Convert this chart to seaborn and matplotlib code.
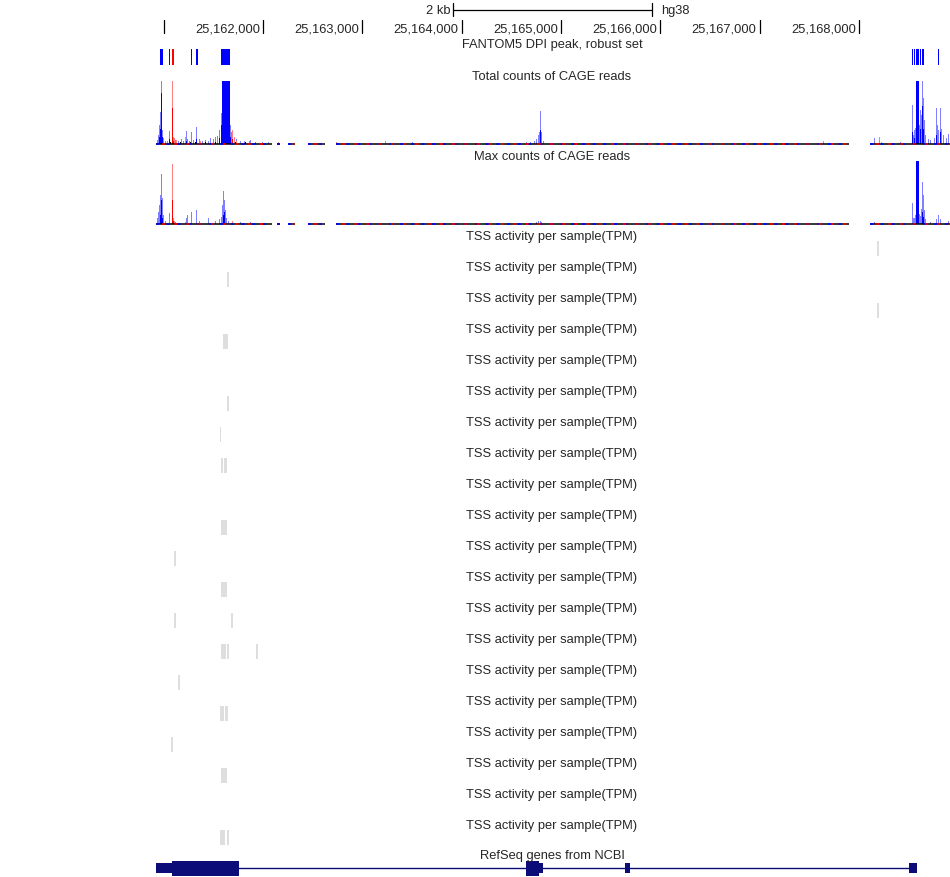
import numpy as np
import pandas as pd
import matplotlib
matplotlib.use("Agg")
import matplotlib.pyplot as plt
import seaborn as sns

sns.set_theme(style="white")
plt.rcParams['font.family'] = ['Liberation Sans', 'DejaVu Sans']

# ---- browser window (hg38) ----
view_start = 25159352      # left edge of the image
view_end = 25168916        # right edge of the image
data_start = 25160923      # left edge of the data area

ruler_ticks = [25161000, 25162000, 25163000, 25164000, 25165000, 25166000, 25167000, 25168000]
ruler_labels = ["", "25,162,000", "25,163,000", "25,164,000", "25,165,000", "25,166,000",
                "25,167,000", "25,168,000"]
scale_start = 25163916
scale_len = 2000
label_x = 25164909

# ---- FANTOM5 DPI peaks (start, width) ----
dpi_plus = [(25160960, 38), (25161052, 16), (25161273, 16), (25161329, 16), (25161577, 91),
            (25168531, 14), (25168552, 14), (25168574, 25), (25168612, 14), (25168637, 14),
            (25168793, 16)]
dpi_minus = [(25161085, 16)]

# ---- Total counts of CAGE reads (% of track height) ----
tot_plus_pos = [25160933, 25160943, 25160953, 25160963, 25160973, 25160983, 25160993, 25161013,
                25161034, 25161054, 25161114, 25161144, 25161174, 25161195, 25161225, 25161235,
                25161255, 25161275, 25161295, 25161326, 25161356, 25161386, 25161416, 25161446,
                25161467, 25161497, 25161517, 25161537, 25161557, 25161577, 25161587, 25161597,
                25161607, 25161617, 25161627, 25161638, 25161648, 25161658, 25161668, 25161678,
                25161708, 25161728, 25161768, 25161809, 25161859, 25161869, 25161920, 25161990,
                25162050, 25163500, 25164648, 25164688, 25164728, 25164748, 25164768, 25164779,
                25164789, 25164799, 25164819, 25168151, 25168413, 25168533, 25168543, 25168554,
                25168564, 25168574, 25168584, 25168594, 25168604, 25168614, 25168624, 25168634,
                25168644, 25168654, 25168664, 25168694, 25168715, 25168755, 25168775, 25168785,
                25168795, 25168815, 25168825, 25168845, 25168876, 25168896]
tot_plus_val = [7, 15, 30, 51, 100, 23, 10, 6, 5, 21, 7, 5, 9, 6, 21, 8,
                6, 19, 7, 27, 8, 5, 7, 6, 10, 9, 11, 13, 22, 50, 100, 100,
                100, 100, 100, 100, 100, 100, 30, 20, 10, 8, 6, 5, 6, 7, 4, 3,
                4, 3, 3, 4, 6, 9, 15, 20, 53, 20, 5, 10, 3, 62, 15, 22,
                26, 100, 100, 100, 30, 54, 46, 100, 73, 38, 15, 8, 7, 10, 57, 30,
                22, 57, 25, 15, 10, 16]
tot_plus_core_pos = [25160953, 25160963, 25160973, 25160983, 25161054, 25161225, 25161326,
                     25161557, 25161577, 25161587, 25161597, 25161607, 25161617, 25161627,
                     25161638, 25161648, 25161658, 25161668, 25164789, 25168533, 25168554,
                     25168574, 25168584, 25168594, 25168614, 25168634, 25168644, 25168775,
                     25168815]
tot_plus_core_val = [12, 25, 81, 12, 8, 6, 8, 10, 30, 100, 100, 100, 100, 100, 100, 100,
                     100, 12, 22, 20, 10, 100, 100, 100, 25, 60, 25, 15, 20]
tot_minus_pos = [25161084, 25161094, 25161104, 25161124, 25161174, 25161215, 25161366,
                 25161688, 25161708, 25161728, 25162151, 25162735, 25163228, 25167638,
                 25168201, 25168221]
tot_minus_val = [100, 12, 10, 7, 4, 11, 6, 22, 12, 6, 3, 4, 5, 5, 11, 4]
tot_minus_core_pos = [25161084, 25161094, 25161688]
tot_minus_core_val = [57, 6, 8]
tot_other_pos = [25161064, 25161164, 25161265, 25161316, 25161416, 25161517, 25161617,
                 25161718, 25161819, 25161920]
tot_other_val = [4, 3, 4, 3, 3, 4, 5, 4, 3, 2]

# ---- Max counts of CAGE reads (% of track height) ----
max_plus_pos = [25160933, 25160943, 25160953, 25160963, 25160973, 25160983, 25160993, 25161013,
                25161054, 25161114, 25161225, 25161235, 25161275, 25161326, 25161356, 25161446,
                25161517, 25161557, 25161577, 25161587, 25161597, 25161607, 25161617, 25161627,
                25161648, 25161688, 25161768, 25161869, 25164748, 25164768, 25164789, 25164799,
                25168151, 25168533, 25168543, 25168554, 25168564, 25168574, 25168584, 25168594,
                25168604, 25168614, 25168624, 25168634, 25168644, 25168654, 25168664, 25168715,
                25168775, 25168795, 25168815, 25168896]
max_plus_val = [10, 20, 31, 46, 80, 42, 15, 6, 18, 4, 10, 14, 19, 23, 5, 10,
                6, 8, 12, 31, 53, 39, 22, 10, 6, 4, 3, 3, 4, 5, 6, 4,
                4, 34, 10, 10, 15, 100, 100, 100, 16, 13, 25, 67, 46, 22, 8, 4,
                8, 15, 8, 6]
max_plus_core_pos = [25160963, 25160973, 25160983, 25161597, 25161607, 25168574, 25168584,
                     25168594, 25168634, 25168644]
max_plus_core_val = [15, 39, 10, 15, 20, 100, 100, 100, 20, 12]
max_minus_pos = [25161084, 25161094, 25161104, 25161215, 25161688]
max_minus_val = [96, 10, 5, 3, 5]
max_minus_core_pos = [25161084, 25161094]
max_minus_core_val = [39, 5]

# stretches of the window with any CAGE signal (baseline)
covered = [(25160923, 25162091), (25162141, 25162171), (25162252, 25162322),
           (25162453, 25162624), (25162735, 25167899), (25168110, 25168916)]

# ---- TSS activity per sample (TPM): hits per sample (start, width) ----
tss_hits = [
    [(25168184, 20)],
    [(25161641, 20)],
    [(25168184, 20)],
    [(25161600, 14), (25161621, 28)],
    [],
    [(25161641, 20)],
    [(25161565, 14)],
    [(25161575, 22), (25161605, 28)],
    [],
    [(25161580, 58)],
    [(25161108, 14)],
    [(25161580, 58)],
    [(25161108, 14), (25161681, 14)],
    [(25161575, 48), (25161641, 14), (25161933, 14)],
    [(25161148, 14)],
    [(25161570, 42), (25161615, 32)],
    [(25161078, 14)],
    [(25161580, 14), (25161600, 38)],
    [],
    [(25161570, 52), (25161641, 14)],
]

# ---- RefSeq gene model ----
gene_utr = [(25160923, 161), (25164781, 41), (25165644, 47), (25168503, 84)]
gene_cds = [(25161084, 674), (25164648, 133)]
gene_span = (25160923, 25168503)

blue, red, navy = "#0000ff", "#ff0000", "#0c0c78"
light_blue, light_red = "#8080ff", "#ff8080"
W, H = 950, 877

fig = plt.figure(figsize=(W / 100, H / 100), dpi=100)
ax = fig.add_axes([0, 0, 1, 1])
ax.set_xlim(view_start, view_end)
ax.set_ylim(H, 0)
ax.axis("off")

px = (view_end - view_start) / W   # bp per pixel
fs = 9.3

# ruler
for t, lab in zip(ruler_ticks, ruler_labels):
    ax.plot([t, t], [20, 33], color="black", lw=0.9)
    ax.text(t - 3 * px, 32.7, lab, ha="right", va="baseline", fontsize=fs)
ax.plot([scale_start, scale_start + scale_len], [9.5, 9.5], color="black", lw=0.9)
for t in (scale_start, scale_start + scale_len):
    ax.plot([t, t], [3, 16], color="black", lw=0.9)
ax.text(scale_start - 3 * px, 14.3, "2 kb", ha="right", va="baseline", fontsize=fs)
ax.text(scale_start + scale_len + 9 * px, 14.3, "hg38", ha="left", va="baseline", fontsize=fs)

# DPI peaks
ax.text(label_x, 47.7, "FANTOM5 DPI peak, robust set", ha="center", va="baseline", fontsize=fs)
ax.broken_barh(dpi_plus, (49, 16), facecolor=blue, edgecolor=blue, linewidth=0,
               antialiased=False)
ax.broken_barh(dpi_minus, (49, 16), facecolor=red, edgecolor=red, linewidth=0,
               antialiased=False)

ax.text(label_x, 79.7, "Total counts of CAGE reads", ha="center", va="baseline", fontsize=fs)
ax.text(label_x, 160, "Max counts of CAGE reads", ha="center", va="baseline", fontsize=fs)


def signal_track(top, bottom, layers):
    tax = fig.add_axes([156 / W, 1 - bottom / H, (W - 156) / W, (bottom - top) / H])
    tax.set_xlim(data_start, view_end)
    tax.set_ylim(-1.8, 100)
    tax.axis("off")
    for s, e in covered:
        tax.plot([s, e], [0, 0], color="black", lw=1.1, solid_capstyle="butt")
        tax.plot([s, e], [0, 0], color=blue, lw=1.1, ls=(0, (2, 5)))
        tax.plot([s, e], [0, 0], color=red, lw=1.1, ls=(4, (2, 6)))
    for pos, val, col in layers:
        df = pd.DataFrame({"pos": pos, "val": val})
        tax.bar(df["pos"], df["val"], width=px * 1.05, color=col, edgecolor=col,
                align="edge", linewidth=0, antialiased=False)
    return tax


signal_track(81, 145.5, [(tot_plus_pos, tot_plus_val, light_blue),
                         (tot_minus_pos, tot_minus_val, light_red),
                         (tot_plus_core_pos, tot_plus_core_val, blue),
                         (tot_minus_core_pos, tot_minus_core_val, red),
                         (tot_other_pos, tot_other_val, "black")])
signal_track(161, 225.5, [(max_plus_pos, max_plus_val, light_blue),
                          (max_minus_pos, max_minus_val, light_red),
                          (max_plus_core_pos, max_plus_core_val, blue),
                          (max_minus_core_pos, max_minus_core_val, red)])

# TSS activity tracks
for i, hits in enumerate(tss_hits):
    y0 = 235 + 31 * i
    ax.text(label_x, y0 + 4.7, "TSS activity per sample(TPM)", ha="center", va="baseline",
            fontsize=fs)
    if hits:
        ax.broken_barh(hits, (y0 + 6, 15), facecolor="#dedede", edgecolor="#dedede",
                       linewidth=0, antialiased=False)

# RefSeq genes
ax.text(label_x, 859.3, "RefSeq genes from NCBI", ha="center", va="baseline", fontsize=fs)
ax.plot(gene_span, [867.8, 867.8], color=navy, lw=1.0)
ax.broken_barh(gene_utr, (863.3, 9.4), facecolor=navy, edgecolor=navy, linewidth=0)
ax.broken_barh(gene_cds, (861.3, 14.5), facecolor=navy, edgecolor=navy, linewidth=0)

fig.savefig("out.png", dpi=100)
